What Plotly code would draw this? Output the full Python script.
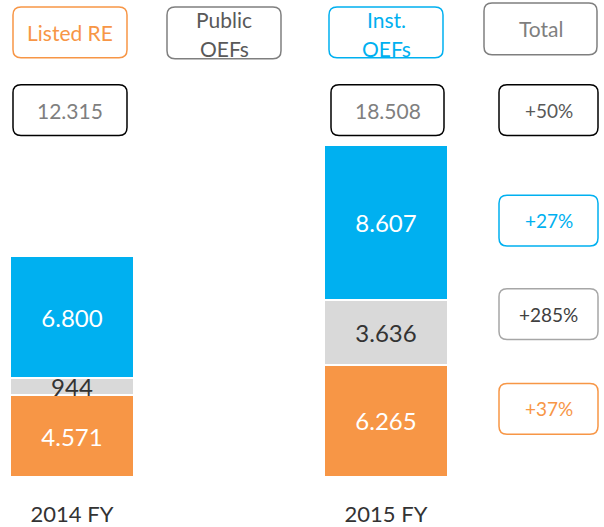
import plotly.graph_objects as go

# ---- data ----
years = ["2014 FY", "2015 FY"]
listed_re = [4571, 6265]
public_oefs = [944, 3636]
inst_oefs = [6800, 8607]

series_names = ["Listed RE", "Public OEFs", "Inst. OEFs"]
series_values = [listed_re, public_oefs, inst_oefs]
series_colors = ["#F79646", "#D9D9D9", "#00B0F0"]
series_text_colors = ["#FFFFFF", "#333333", "#FFFFFF"]

totals = [sum(v) for v in zip(*series_values)]

def fmt_int(v):
    return f"{v:,}".replace(",", ".")

def growth(a, b):
    return f"+{round((b / a - 1) * 100):d}%"

FONT = "Lato"
W, H = 604, 527
PLOT_BOTTOM = 479  # pixel row of value 0

def px(x):
    return x / W

def py(y):
    return (PLOT_BOTTOM - y) / PLOT_BOTTOM

fig = go.Figure()
for name, vals, col, tcol in zip(series_names, series_values, series_colors, series_text_colors):
    fig.add_trace(go.Bar(
        x=years, y=vals, name=name,
        marker=dict(color=col, line=dict(color="white", width=2)),
        width=0.395,
        texttemplate="%{y:,}",
        textposition="inside",
        insidetextanchor="middle",
        textangle=0,
        textfont=dict(family=FONT, size=24, color=tcol),
        cliponaxis=False,
        hoverinfo="skip",
    ))

def rrect(x0, y0, x1, y1, r=8):
    P = lambda x, y: f"{px(x):.5f},{py(y):.5f}"
    path = (f"M {P(x0 + r, y0)} L {P(x1 - r, y0)} Q {P(x1, y0)} {P(x1, y0 + r)} "
            f"L {P(x1, y1 - r)} Q {P(x1, y1)} {P(x1 - r, y1)} "
            f"L {P(x0 + r, y1)} Q {P(x0, y1)} {P(x0, y1 - r)} "
            f"L {P(x0, y0 + r)} Q {P(x0, y0)} {P(x0 + r, y0)} Z")
    return path

shapes = []
annotations = []

def label(x, y, text, color, size):
    annotations.append(dict(xref="paper", yref="paper", x=px(x), y=py(y),
                            xanchor="center", yanchor="middle", text=text, showarrow=False,
                            font=dict(family=FONT, size=size, color=color)))

def box(x0, y0, x1, y1, text, border, tcolor, size, lw=1.5):
    shapes.append(dict(type="path", xref="paper", yref="paper", path=rrect(x0, y0, x1, y1),
                       line=dict(color=border, width=lw), fillcolor="rgba(0,0,0,0)", layer="above"))
    lines = text.split("\n")
    if len(lines) == 1:
        label((x0 + x1) / 2, (y0 + y1) / 2, text, tcolor, size)
    else:
        label((x0 + x1) / 2, 20, lines[0], tcolor, size)
        label((x0 + x1) / 2, 49, lines[1], tcolor, size)

# legend-like header boxes
box(13, 7, 127, 58, "Listed RE", "#F79646", "#F79646", 21)
box(167, 7, 281, 59, "Public\nOEFs", "#7F7F7F", "#595959", 21)
box(329, 7, 443, 58, "Inst.\nOEFs", "#00B0F0", "#00B0F0", 21)
box(484, 3, 597, 55, "Total", "#7F7F7F", "#7F7F7F", 21)

# totals
box(13, 85, 127, 136, fmt_int(totals[0]), "#000000", "#7F7F7F", 21)
box(331, 85, 444, 136, fmt_int(totals[1]), "#000000", "#7F7F7F", 21)

# growth boxes
box(499, 85, 598, 136, growth(totals[0], totals[1]), "#000000", "#595959", 19)
box(499, 196, 598, 247, growth(inst_oefs[0], inst_oefs[1]), "#00B0F0", "#00B0F0", 19)
box(499, 290, 598, 341, growth(public_oefs[0], public_oefs[1]), "#A6A6A6", "#404040", 19)
box(499, 385, 598, 436, growth(listed_re[0], listed_re[1]), "#F79646", "#F79646", 19)

# cut-off subtitle at top (only its lowest edge is visible, as in the reference)
annotations.append(dict(xref="paper", yref="paper", x=px(12), y=py(3), xanchor="left", yanchor="bottom",
                        text="(Real Estate AuM in EUR million, FY)", showarrow=False,
                        font=dict(family=FONT, size=20, color="#595959")))

fig.update_layout(
    width=W, height=H,
    margin=dict(l=0, r=0, t=0, b=H - PLOT_BOTTOM, pad=0),
    barmode="stack",
    showlegend=False,
    plot_bgcolor="white", paper_bgcolor="white",
    separators=",.",
    shapes=shapes,
    annotations=annotations,
    uniformtext=dict(mode="show", minsize=24),
    xaxis=dict(range=[-72 / 314, (604 - 72) / 314], showgrid=False, zeroline=False, showline=False,
               ticks="", ticklabelstandoff=22,
               tickfont=dict(family=FONT, size=22, color="#333333"), fixedrange=True),
    yaxis=dict(range=[0, PLOT_BOTTOM * 18508 / 333], visible=False, fixedrange=True),
)

fig.write_html("out.html")
